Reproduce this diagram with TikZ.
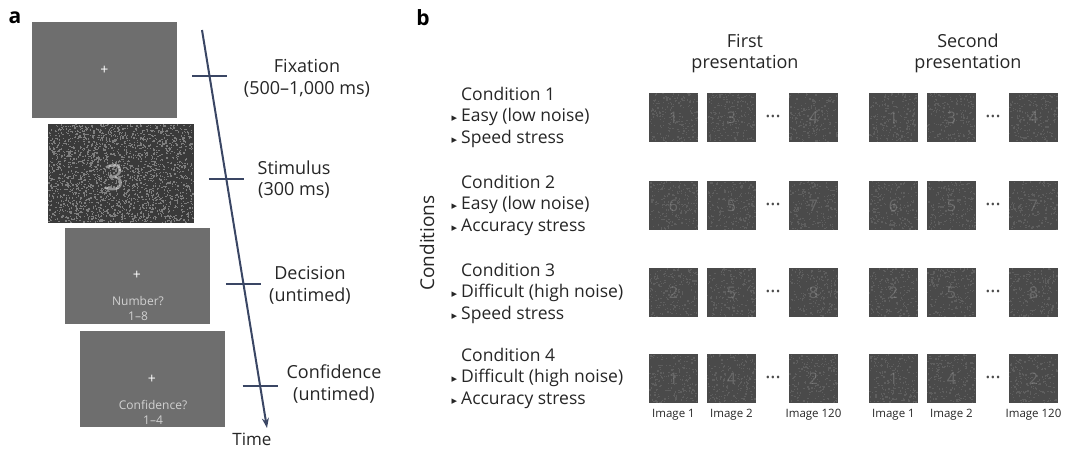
\documentclass[tikz,border=0pt]{standalone}
\usepackage{fontspec}
\setmainfont{Open Sans}
\newfontfamily\symfont{DejaVu Sans}
\usetikzlibrary{arrows.meta,calc,positioning}
\definecolor{axiscol}{HTML}{3A4664}
\definecolor{txtcol}{HTML}{262626}
\definecolor{screencol}{HTML}{6E6E6E}
\definecolor{noisebase}{HTML}{3A3A3A}
\definecolor{noisedot}{HTML}{7E7E7E}
\definecolor{thumbcol}{HTML}{4A4A4A}
\definecolor{thumbdot}{HTML}{5E5E5E}
\newcommand\tri{\llap{{\symfont\fontsize{11}{11}\selectfont ▸}\hspace{4pt}}}
% x, y (top left), w, h, number of dots, base colour, dot colour
\newcommand\addnoise[7]{%
  \fill[#6] (#1,#2) rectangle ++(#3,#4);
  \foreach \i in {1,...,#5}{
    \pgfmathsetmacro\rx{#1+rnd*(#3-1.3)}
    \pgfmathsetmacro\ry{#2+rnd*(#4-1.3)}
    \fill[#7] (\rx,\ry) rectangle ++(1.3,1.3);}%
}
\tikzset{
  lbl/.style={align=center, text=txtcol, inner sep=0pt, font=\fontsize{18}{21.5}\selectfont},
  cond/.style={align=left, text=txtcol, inner sep=0pt, anchor=west, font=\fontsize{17.5}{21.5}\selectfont},
  panel/.style={inner sep=0pt, font=\fontsize{21}{21}\selectfont\bfseries},
  screen/.style={minimum width=145pt, minimum height=96pt, fill=screencol, inner sep=0pt, text=white, font=\fontsize{14}{14}\selectfont},
  qtext/.style={align=center, inner sep=0pt, text=white!82!black, font=\fontsize{12}{15}\selectfont},
  thumb/.style={minimum size=49pt, inner sep=0pt, text=white, text opacity=.18, font=\fontsize{16}{16}\selectfont},
  imlbl/.style={inner sep=0pt, text=txtcol, font=\fontsize{11.5}{12}\selectfont},
  dotsep/.style={inner sep=0pt, text=black!70, font=\fontsize{11}{11}\selectfont},
  tick/.style={axiscol, line width=2pt}
}
\begin{document}
\begin{tikzpicture}[x=1pt, y=-1pt]
\useasboundingbox[fill=white] (0,0) rectangle (1080,455);
\pgfmathsetseed{7}
%% panel a
\node[panel] (a) at (15,18) {a};
\node[screen] (fix) at (104.5,70) {+};
\addnoise{48}{124}{146}{99}{2200}{noisebase}{noisedot}
\node[inner sep=0pt, text=white, text opacity=.45, font=\fontsize{36}{36}\selectfont] (stim) at (114,178) {3};
\node[screen] (dec) at (137,275.5) {+};
\node[qtext] (decq) at ($(dec.center)+(1,32.5)$) {Number?\\1–8};
\node[screen] (conf) at (152,379) {+};
\node[qtext] (confq) at ($(conf.center)+(1,33)$) {Confidence?\\1–4};
% time axis
\coordinate (t0) at (202,30);
\coordinate (t1) at (267,428);
\draw[axiscol, line width=2pt, -{Stealth[length=10pt,width=7pt]}] (t0) -- (t1);
\node[lbl, font=\fontsize{17}{17}\selectfont] (time) at (252,439) {Time};
\foreach \n/\y in {1/76,2/179,3/284,4/386}{
  \coordinate (k\n) at ($(t0)!{(\y-30)/398}!(t1)$);
  \draw[tick] ([xshift=-17.5pt]k\n) -- ([xshift=17.5pt]k\n);}
\node[lbl] (fixl) at (307,78.5) {Fixation\\(500–1,000 ms)};
\node[lbl] (stiml) at (294,179.5) {Stimulus\\(300 ms)};
\node[lbl] (decl) at (310,285.5) {Decision\\(untimed)};
\node[lbl] (confl) at (334,384) {Confidence\\(untimed)};
%% panel b
\node[panel] (b) at (423,18) {b};
\node[lbl] (first) at (745,53.5) {First\\presentation};
\node[lbl] (second) at (968,53.5) {Second\\presentation};
\node[lbl, rotate=90, font=\fontsize{19}{19}\selectfont] (conds) at (427,243) {Conditions};
\foreach \r/\yc/\la/\lb in {1/117/Easy (low noise)/Speed stress,
    2/205/Easy (low noise)/Accuracy stress,
    3/293/Difficult (high noise)/Speed stress,
    4/378/Difficult (high noise)/Accuracy stress}{
  \node[cond] (c\r) at (461,\yc) {Condition \r\\\tri\la\\\tri\lb};}
% image strips
\foreach \r/\ty/\da/\db/\dc in {1/93/1/3/4,2/181/6/5/7,3/268/2/5/8,4/354/1/4/2}{
  \foreach \g/\gx in {1/649,2/869}{
    \foreach \k/\dx/\d in {a/0/\da,b/58/\db,c/140/\dc}{
      \addnoise{\gx+\dx}{\ty}{49}{49}{200}{thumbcol}{thumbdot}
      \node[thumb] (im\r\g\k) at (\gx+\dx+24.5,\ty+24.5) {\d};}
    \node[dotsep] (dots\r\g) at (\gx+124,\ty+24.5) {•\kern1pt•\kern1pt•};}}
\foreach \g in {1,2}{
  \node[imlbl, below=5.5pt of im4\g a.south] (lab\g a) {Image 1};
  \node[imlbl, below=5.5pt of im4\g b.south] (lab\g b) {Image 2};
  \node[imlbl, below=5.5pt of im4\g c.south] (lab\g c) {Image 120};}
\end{tikzpicture}
\end{document}
